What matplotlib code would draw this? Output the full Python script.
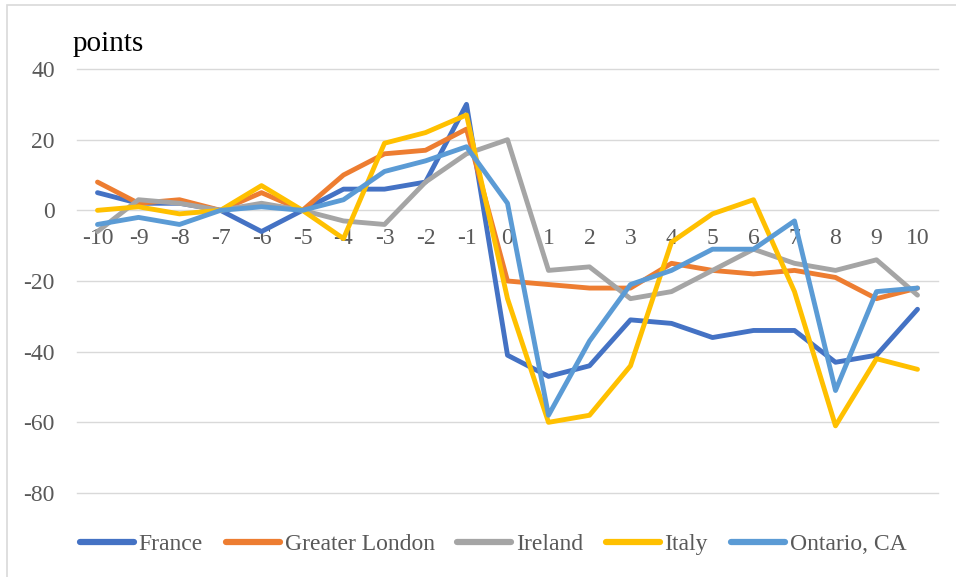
import matplotlib
matplotlib.use("Agg")
import matplotlib.pyplot as plt
from matplotlib.patches import Rectangle

periods = list(range(-10, 11))
tick_labels = [str(p) for p in periods]
series_names = ["France", "Greater London", "Ireland", "Italy", "Ontario, CA"]
france = [5, 2, 2, 0, -6, 0, 6, 6, 8, 30, -41, -47, -44, -31, -32, -36, -34, -34, -43, -41, -28]
greater_london = [8, 2, 3, 0, 5, 0, 10, 16, 17, 23, -20, -21, -22, -22, -15, -17, -18, -17, -19, -25, -22]
ireland = [-6, 3, 2, 0, 2, 0, -3, -4, 8, 16, 20, -17, -16, -25, -23, -17, -11, -15, -17, -14, -24]
italy = [0, 1, -1, 0, 7, 0, -8, 19, 22, 27, -25, -60, -58, -44, -9, -1, 3, -23, -61, -42, -45]
ontario = [-4, -2, -4, 0, 1, 0, 3, 11, 14, 18, 2, -58, -37, -21, -17, -11, -11, -3, -51, -23, -22]
y_ticks = [40, 20, 0, -20, -40, -60, -80]

colors = ["#4472C4", "#ED7D31", "#A5A5A5", "#FFC000", "#5B9BD5"]
data = [france, greater_london, ireland, italy, ontario]

plt.rcParams['font.family'] = ['Liberation Serif', 'DejaVu Serif']

fig = plt.figure(figsize=(9.56, 5.77), dpi=100)
ax = fig.add_axes([77/956, 1-493/577, (938-77)/956, (493-69)/577])

for name, vals, c in zip(series_names, data, colors):
    ax.plot(periods, vals, color=c, lw=3.5, label=name, solid_joinstyle='round', solid_capstyle='round')

ax.set_xlim(-10.5, 10.5)
ax.set_ylim(-80, 40)
ax.set_yticks(y_ticks)
ax.set_yticklabels([str(v) for v in y_ticks])
ax.set_xticks(periods)
ax.set_xticklabels(tick_labels)
ax.grid(axis='y', color='#D9D9D9', lw=1.0)
for gl in ax.get_ygridlines():
    gl.set_clip_on(False)
ax.set_axisbelow(True)
for s in ['top', 'right', 'left']:
    ax.spines[s].set_visible(False)
ax.spines['bottom'].set_position(('data', 0))
ax.spines['bottom'].set_visible(False)
ax.tick_params(axis='x', length=0, pad=13, labelsize=17, labelcolor='#595959')
ax.tick_params(axis='y', length=0, pad=16, labelsize=17, labelcolor='#595959')

fig.text(73/956, 1-44/577, "points", fontsize=21, color='black', va='center', ha='left')

leg = fig.legend(loc='center', bbox_to_anchor=(493/956, 1-544/577), ncol=5, frameon=False,
                 fontsize=17, handlelength=2.3, handletextpad=0.2, columnspacing=0.95,
                 labelcolor='#595959')
for line in leg.get_lines():
    line.set_linewidth(4.5)
    line.set_solid_capstyle('round')

fig.patches.append(Rectangle((7/956, -0.1), 1, 1 + 0.1 - 5/577, transform=fig.transFigure, fill=False,
                             edgecolor='#D9D9D9', lw=1.2, zorder=0))

fig.savefig("out.png", dpi=100)
